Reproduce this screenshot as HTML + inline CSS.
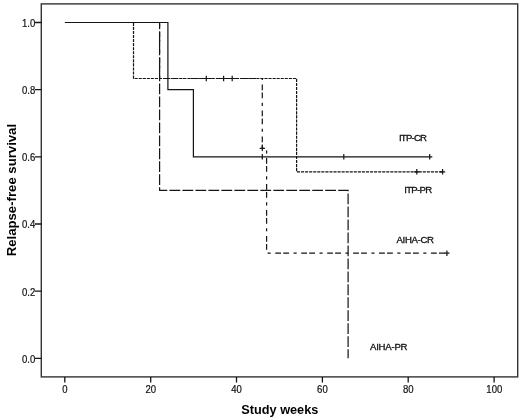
<!DOCTYPE html>
<html>
<head>
<meta charset="utf-8">
<title>Relapse-free survival</title>
<style>
html,body{margin:0;padding:0;background:#fff;}
svg{display:block;}
text{font-family:"Liberation Sans",Arial,sans-serif;fill:#111;}
.t{font-size:10.1px;stroke:#111;stroke-width:0.2px;}
.l{font-size:9.6px;stroke:#111;stroke-width:0.3px;}
.b{font-size:13px;font-weight:bold;fill:#000;}
.ln{stroke:#151515;stroke-width:1.22;fill:none;}
</style>
</head>
<body>
<svg width="520" height="418" viewBox="0 0 520 418">
<rect x="0" y="0" width="520" height="418" fill="#fff"/>
<!-- frame -->
<rect x="41.3" y="3.9" width="476.4" height="373" class="ln" style="stroke-width:1.4;stroke:#333"/>
<!-- y ticks -->
<g class="ln" style="stroke-width:1.3">
<path d="M35 22.5H41.5M35 89.7H41.5M35 156.9H41.5M35 224H41.5M35 291.2H41.5M35 358.4H41.5"/>
<path d="M64.8 377V382.5M150.7 377V382.5M236.5 377V382.5M322.4 377V382.5M408.2 377V382.5M494.1 377V382.5"/>
</g>
<g class="t" text-anchor="end">
<text transform="translate(35.3 26.9) scale(0.945 1)">1.0</text>
<text transform="translate(35.3 94.1) scale(0.945 1)">0.8</text>
<text transform="translate(35.3 161.3) scale(0.945 1)">0.6</text>
<text transform="translate(35.3 228.4) scale(0.945 1)">0.4</text>
<text transform="translate(35.3 295.6) scale(0.945 1)">0.2</text>
<text transform="translate(35.3 362.8) scale(0.945 1)">0.0</text>
</g>
<g class="t" text-anchor="middle">
<text transform="translate(64.8 392.5) scale(0.945 1)">0</text>
<text transform="translate(150.7 392.5) scale(0.945 1)">20</text>
<text transform="translate(236.5 392.5) scale(0.945 1)">40</text>
<text transform="translate(322.4 392.5) scale(0.945 1)">60</text>
<text transform="translate(408.2 392.5) scale(0.945 1)">80</text>
<text transform="translate(494.3 392.5) scale(0.945 1)">100</text>
</g>
<!-- axis titles -->
<text class="b" x="241.3" y="413.8" textLength="77" lengthAdjust="spacingAndGlyphs">Study weeks</text>
<text class="b" transform="translate(16 256.3) rotate(-90)" textLength="132.4" lengthAdjust="spacingAndGlyphs">Relapse-free survival</text>
<!-- AIHA-CR dash dot -->
<path class="ln" stroke-dasharray="5.8 2.2 5.8 4.5 3.1 4.55" stroke-dashoffset="16.95" d="M159.6 22.5V78.5H262.3V148.4H266.6V253.2H446.9"/>
<path class="ln" d="M262.3 145.7V151.1M259.7 148.4H264.9M446.9 250.5V255.9M444.3 253.2H449.5"/>
<!-- AIHA-PR long dash -->
<path class="ln" stroke-dasharray="10.78 2.2" stroke-dashoffset="3.94" d="M159.6 22.5V190.4H348.1V358.2"/>
<!-- ITP-PR short dash -->
<path class="ln" stroke-dasharray="3.1 0.958" stroke-dashoffset="3.77" d="M133.5 22.5V78.5H296.6V171.8H442.6"/>
<path class="ln" d="M206.3 75.8V81.2M203.7 78.5H208.9M223.6 75.8V81.2M221.0 78.5H226.2M232.2 75.8V81.2M229.6 78.5H234.8M416.8 169.1V174.5M414.2 171.8H419.4M442.6 169.1V174.5M440.0 171.8H445.2"/>
<!-- ITP-CR solid -->
<path class="ln" d="M64.8 22.5H167.9V89.7H193.4V156.8H432.3"/>
<path class="ln" d="M262.3 154.1V159.5M343.8 154.1V159.5M429.7 154.1V159.5"/>
<!-- labels -->
<g class="l">
<text x="399.0" y="140.7" textLength="28" lengthAdjust="spacing">ITP-CR</text>
<text x="404.2" y="192.7" textLength="28" lengthAdjust="spacing">ITP-PR</text>
<text x="396.5" y="243.4" textLength="37.5" lengthAdjust="spacing">AIHA-CR</text>
<text x="370" y="350.25" textLength="37.5" lengthAdjust="spacing">AIHA-PR</text>
</g>
</svg>
</body>
</html>
